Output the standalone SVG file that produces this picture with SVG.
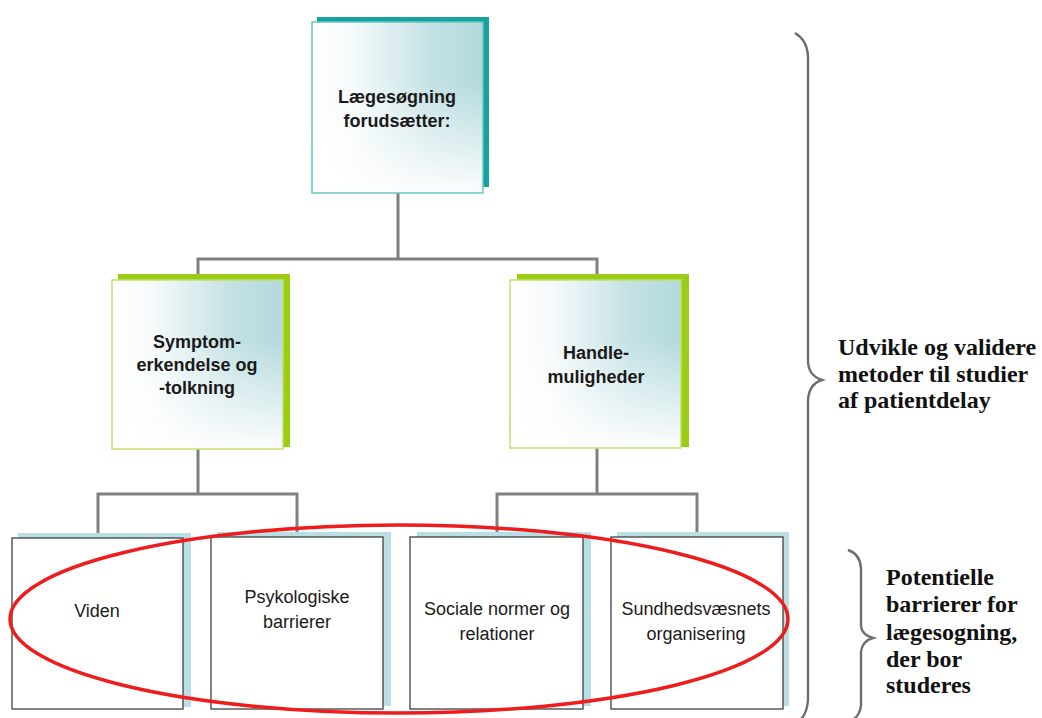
<svg xmlns="http://www.w3.org/2000/svg" width="1042" height="718" viewBox="0 0 1042 718">
<defs>
<linearGradient id="gh" x1="0" y1="0" x2="1" y2="0">
<stop offset="0" stop-color="#ffffff"/>
<stop offset="0.25" stop-color="#f5fafb"/>
<stop offset="0.7" stop-color="#c4e1e4"/>
<stop offset="1" stop-color="#b3d9dd"/>
</linearGradient>
<linearGradient id="gv" x1="0" y1="0" x2="0" y2="1">
<stop offset="0" stop-color="#ffffff" stop-opacity="0"/>
<stop offset="0.35" stop-color="#ffffff" stop-opacity="0"/>
<stop offset="1" stop-color="#ffffff" stop-opacity="0.95"/>
</linearGradient>
<style>
.conn{fill:none;stroke:#808080;stroke-width:3}
.brace{fill:none;stroke:#6e6e6e;stroke-width:2.4}
.lbl{font-family:"Liberation Sans",Arial,sans-serif;font-size:18px;fill:#1a1a1a;text-anchor:middle}
.b{font-weight:bold}
.side{font-family:"Liberation Serif","Times New Roman",serif;font-weight:bold;font-size:24px;fill:#111}
.box{fill:#fff;stroke:#404040;stroke-width:1.3}
.bshadow{fill:#b9dfe4}
.gfill{fill:url(#gh)}
.gover{fill:url(#gv)}
</style>
</defs>
<rect width="1042" height="718" fill="#ffffff"/>

<g id="connectors">
<polyline class="conn" points="398,193 398,259"/>
<polyline class="conn" points="198,280 198,259 597,259 597,280"/>
<polyline class="conn" points="198,449 198,494"/>
<polyline class="conn" points="98,533 98,494 297,494 297,533"/>
<polyline class="conn" points="597,448 597,494"/>
<polyline class="conn" points="497,533 497,494 697,494 697,533"/>
</g>

<g id="node-top">
<rect x="317" y="17" width="172" height="170" fill="#17a29d"/>
<rect class="gfill" x="312" y="22" width="171" height="171"/>
<rect class="gover" x="312" y="22" width="171" height="171" stroke="#63c7c3" stroke-width="1.5"/>
<text class="lbl b" x="397" y="103">Lægesøgning</text>
<text class="lbl b" x="397" y="127">forudsætter:</text>
</g>

<g id="node-symptom">
<rect x="118" y="274" width="172" height="173" fill="#9acd13"/>
<rect class="gfill" x="112" y="280" width="171" height="169"/>
<rect class="gover" x="112" y="280" width="171" height="169" stroke="#c3e06b" stroke-width="1.5"/>
<text class="lbl b" x="197" y="348">Symptom-</text>
<text class="lbl b" x="197" y="371">erkendelse og</text>
<text class="lbl b" x="197" y="394">-tolkning</text>
</g>

<g id="node-handle">
<rect x="517" y="274" width="172" height="173" fill="#9acd13"/>
<rect class="gfill" x="510" y="280" width="171" height="168"/>
<rect class="gover" x="510" y="280" width="171" height="168" stroke="#c3e06b" stroke-width="1.5"/>
<text class="lbl b" x="596" y="359">Handle-</text>
<text class="lbl b" x="596" y="383">muligheder</text>
</g>

<g id="node-viden">
<rect class="bshadow" x="18" y="533" width="173" height="174"/>
<rect class="box" x="12" y="538" width="171" height="171"/>
<text class="lbl" x="97" y="617">Viden</text>
</g>

<g id="node-psyk">
<rect class="bshadow" x="217" y="532" width="174" height="174"/>
<rect class="box" x="211" y="537" width="172" height="172"/>
<text class="lbl" x="297" y="603">Psykologiske</text>
<text class="lbl" x="297" y="628">barrierer</text>
</g>

<g id="node-sociale">
<rect class="bshadow" x="417" y="532" width="174" height="174"/>
<rect class="box" x="410" y="537" width="173" height="172"/>
<text class="lbl" x="497" y="615">Sociale normer og</text>
<text class="lbl" x="497" y="640">relationer</text>
</g>

<g id="node-sundhed">
<rect class="bshadow" x="617" y="532" width="172" height="174"/>
<rect class="box" x="611" y="537" width="172" height="172"/>
<text class="lbl" x="696" y="615">Sundhedsvæsnets</text>
<text class="lbl" x="696" y="640">organisering</text>
</g>

<g id="highlight">
<ellipse cx="399" cy="619" rx="389" ry="94" fill="none" stroke="#ee1c1c" stroke-width="3.5"/>
</g>

<g id="brace-big">
<path class="brace" d="M795,33 Q807,40 808,56 L808,362 Q809,376 822,380 Q809,384 808,400 L808,700 Q807,714 800,720"/>
<text class="side" x="838" y="355">Udvikle og validere</text>
<text class="side" x="838" y="382">metoder til studier</text>
<text class="side" x="838" y="408">af patientdelay</text>
</g>

<g id="brace-small">
<path class="brace" d="M848,550 Q860,554 861,568 L861,626 Q862,635 873,638 Q862,641 861,652 L861,705 Q860,716 852,720"/>
<text class="side" x="886" y="585">Potentielle</text>
<text class="side" x="886" y="612">barrierer for</text>
<text class="side" x="886" y="640">lægesogning,</text>
<text class="side" x="886" y="667">der bor</text>
<text class="side" x="886" y="693">studeres</text>
</g>
</svg>
